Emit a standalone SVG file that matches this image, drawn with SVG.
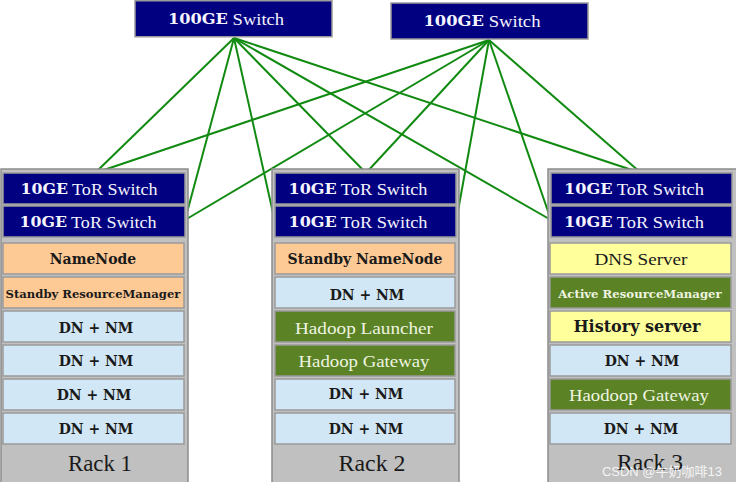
<svg xmlns="http://www.w3.org/2000/svg" width="736" height="482" viewBox="0 0 736 482">
<style>
.bg{fill:#ffffff}
.rack{fill:#c0c0c0;stroke:#8c8c8c;stroke-width:1.5}
.sw{fill:#000080;stroke:#9a9a9a;stroke-width:1.5}
.pe{fill:#fdc995;stroke:#9a9a9a;stroke-width:1.5}
.lb{fill:#d2e7f5;stroke:#9a9a9a;stroke-width:1.5}
.gr{fill:#5b8225;stroke:#9a9a9a;stroke-width:1.5}
.ye{fill:#ffff9c;stroke:#9a9a9a;stroke-width:1.5}
text{font-family:"Liberation Serif","Times New Roman",serif;text-anchor:middle;dominant-baseline:central}
.tw{fill:#f4f4ff;font-size:16px}
.tb{font-family:"DejaVu Serif","Liberation Serif",serif;font-weight:bold;font-size:14px}
.td{font-family:"DejaVu Serif","Liberation Serif",serif;fill:#1a1a1a;font-size:14px;font-weight:bold}
.tr{fill:#1a1a1a;font-size:17px}
.tg{fill:#eef4e0;font-size:17px}
.rk{fill:#1a1a1a;font-size:23px}
.ln line{stroke:#118a11;stroke-width:2}
</style>
<rect class="bg" x="0" y="0" width="736" height="482"/>
<g id="connectors" class="ln">
<line x1="234" y1="38" x2="95" y2="173"/>
<line x1="234" y1="38" x2="185" y2="220"/>
<line x1="234" y1="38" x2="275" y2="222"/>
<line x1="234" y1="38" x2="366" y2="173"/>
<line x1="234" y1="38" x2="551" y2="220"/>
<line x1="234" y1="38" x2="641" y2="173"/>
<line x1="489" y1="40" x2="95" y2="173"/>
<line x1="489" y1="40" x2="185" y2="220"/>
<line x1="489" y1="40" x2="456" y2="222"/>
<line x1="489" y1="40" x2="366" y2="173"/>
<line x1="489" y1="40" x2="551" y2="220"/>
<line x1="489" y1="40" x2="641" y2="173"/>
</g>
<g id="core1"><rect class="sw" x="135" y="0.75" width="197" height="36"/><text class="tw" x="226" y="19" textLength="116" lengthAdjust="spacingAndGlyphs"><tspan class="tb">100GE</tspan> Switch</text></g>
<g id="core2"><rect class="sw" x="391" y="3" width="197" height="36"/><text class="tw" x="482" y="21" textLength="117" lengthAdjust="spacingAndGlyphs"><tspan class="tb">100GE</tspan> Switch</text></g>

<g id="rack1">
<rect class="rack" x="1" y="169" width="187" height="314"/>
<text class="rk" x="100" y="463" textLength="64" lengthAdjust="spacingAndGlyphs">Rack 1</text>
</g>
<g id="r1-tor1"><rect class="sw" x="3" y="173" width="182" height="31"/><text class="tw" x="89" y="189" textLength="137" lengthAdjust="spacingAndGlyphs"><tspan class="tb">10GE</tspan> ToR Switch</text></g>
<g id="r1-tor2"><rect class="sw" x="3" y="206" width="182" height="31"/><text class="tw" x="88" y="222" textLength="137" lengthAdjust="spacingAndGlyphs"><tspan class="tb">10GE</tspan> ToR Switch</text></g>
<g id="r1-nn"><rect class="pe" x="3" y="243" width="181" height="31"/><text class="td" x="93" y="259">NameNode</text></g>
<g id="r1-srm"><rect class="pe" x="3" y="277" width="181" height="31"/><text class="td" x="93" y="294" style="font-size:11.6px">Standby ResourceManager</text></g>
<g id="r1-dn1"><rect class="lb" x="3" y="311" width="181" height="31"/><text class="td" x="96" y="328">DN + NM</text></g>
<g id="r1-dn2"><rect class="lb" x="3" y="345" width="181" height="31"/><text class="td" x="96" y="361">DN + NM</text></g>
<g id="r1-dn3"><rect class="lb" x="3" y="379" width="181" height="31"/><text class="td" x="94" y="395">DN + NM</text></g>
<g id="r1-dn4"><rect class="lb" x="3" y="413" width="181" height="31"/><text class="td" x="96" y="429">DN + NM</text></g>

<g id="rack2">
<rect class="rack" x="272" y="169" width="187" height="314"/>
<text class="rk" x="372" y="463" textLength="67" lengthAdjust="spacingAndGlyphs">Rack 2</text>
</g>
<g id="r2-tor1"><rect class="sw" x="275" y="173" width="181" height="31"/><text class="tw" x="358" y="189" textLength="139" lengthAdjust="spacingAndGlyphs"><tspan class="tb">10GE</tspan> ToR Switch</text></g>
<g id="r2-tor2"><rect class="sw" x="275" y="206" width="181" height="31"/><text class="tw" x="358" y="222" textLength="139" lengthAdjust="spacingAndGlyphs"><tspan class="tb">10GE</tspan> ToR Switch</text></g>
<g id="r2-snn"><rect class="pe" x="275" y="243" width="180" height="31"/><text class="td" x="365" y="259" style="font-size:14px">Standby NameNode</text></g>
<g id="r2-dn1"><rect class="lb" x="275" y="277" width="180" height="31"/><text class="td" x="367" y="295">DN + NM</text></g>
<g id="r2-hl"><rect class="gr" x="275" y="311" width="180" height="31"/><text class="tg" x="364" y="328" textLength="138" lengthAdjust="spacingAndGlyphs">Hadoop Launcher</text></g>
<g id="r2-hg"><rect class="gr" x="275" y="345" width="180" height="31"/><text class="tg" x="364" y="361" textLength="131" lengthAdjust="spacingAndGlyphs">Hadoop Gateway</text></g>
<g id="r2-dn2"><rect class="lb" x="275" y="379" width="180" height="31"/><text class="td" x="366" y="394">DN + NM</text></g>
<g id="r2-dn3"><rect class="lb" x="275" y="413" width="180" height="31"/><text class="td" x="366" y="429">DN + NM</text></g>

<g id="rack3">
<rect class="rack" x="548" y="169" width="189" height="314"/>
<text class="rk" x="650" y="462" textLength="66" lengthAdjust="spacingAndGlyphs">Rack 3</text>
</g>
<g id="r3-tor1"><rect class="sw" x="551" y="173" width="181" height="31"/><text class="tw" x="634" y="189" textLength="140" lengthAdjust="spacingAndGlyphs"><tspan class="tb">10GE</tspan> ToR Switch</text></g>
<g id="r3-tor2"><rect class="sw" x="551" y="206" width="181" height="31"/><text class="tw" x="634" y="222" textLength="140" lengthAdjust="spacingAndGlyphs"><tspan class="tb">10GE</tspan> ToR Switch</text></g>
<g id="r3-dns"><rect class="ye" x="550" y="243" width="181" height="31"/><text class="tr" x="641" y="259" textLength="93" lengthAdjust="spacingAndGlyphs">DNS Server</text></g>
<g id="r3-arm"><rect class="gr" x="550" y="277" width="181" height="31"/><text class="td" x="640" y="294" style="fill:#eef4e0;font-size:11.7px">Active ResourceManager</text></g>
<g id="r3-hs"><rect class="ye" x="550" y="311" width="181" height="31"/><text class="td" x="637" y="326" style="font-size:16px">History server</text></g>
<g id="r3-dn1"><rect class="lb" x="550" y="345" width="181" height="31"/><text class="td" x="642" y="361">DN + NM</text></g>
<g id="r3-hg"><rect class="gr" x="550" y="379" width="181" height="31"/><text class="tg" x="639" y="395" textLength="140" lengthAdjust="spacingAndGlyphs">Haodoop Gateway</text></g>
<g id="r3-dn2"><rect class="lb" x="550" y="413" width="181" height="31"/><text class="td" x="641" y="429">DN + NM</text></g>

<text x="722" y="471" style="font-family:'Liberation Sans','Noto Sans CJK SC',sans-serif;font-size:13px;fill:#ffffff;fill-opacity:0.85;text-anchor:end">CSDN @牛奶咖啡13</text>
</svg>
